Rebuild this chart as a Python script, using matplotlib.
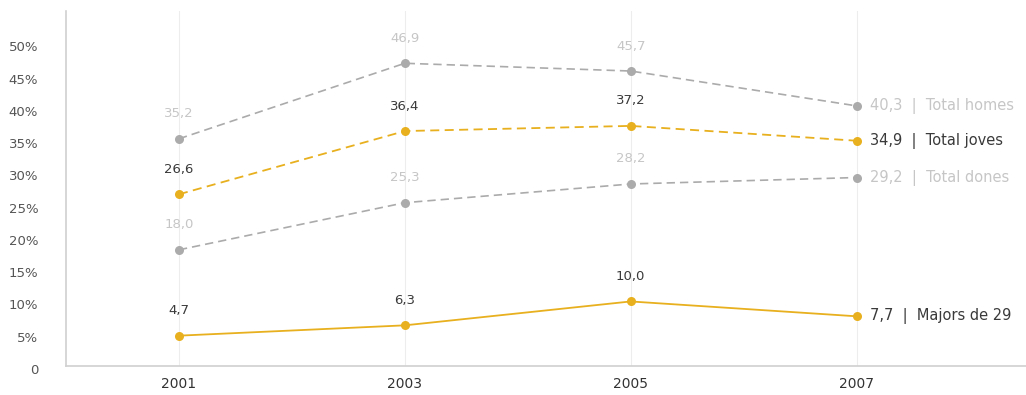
import matplotlib
matplotlib.use('Agg')
import matplotlib.pyplot as plt
from matplotlib.transforms import ScaledTranslation

plt.rcParams['font.family'] = ['DejaVu Sans']

# dades
anys = [2001, 2003, 2005, 2007]
total_homes = [35.2, 46.9, 45.7, 40.3]
total_joves = [26.6, 36.4, 37.2, 34.9]
total_dones = [18.0, 25.3, 28.2, 29.2]
majors_29 = [4.7, 6.3, 10.0, 7.7]
noms = ['Total homes', 'Total joves', 'Total dones', 'Majors de 29']
yticks = [0, 5, 10, 15, 20, 25, 30, 35, 40, 45, 50]
ytick_labels = ['0', '5%', '10%', '15%', '20%', '25%', '30%', '35%', '40%', '45%', '50%']

groc = '#E8B01E'
gris = '#ABABAB'
gris_text = '#C6C6C6'
fosc = '#3A3A3A'

fig = plt.figure(figsize=(10.26, 3.95), dpi=100)
ax = fig.add_axes([66 / 1026, 29 / 395, 960 / 1026, 355 / 395])

series = [
    (total_homes, gris, (0, (5, 3)), 1.2, gris_text),
    (total_joves, groc, (0, (5, 3)), 1.3, fosc),
    (total_dones, gris, (0, (5, 3)), 1.2, gris_text),
    (majors_29, groc, '-', 1.3, fosc),
]

for (vals, color, ls, lw, tcolor), nom in zip(series, noms):
    ax.plot(anys, vals, color=color, linestyle=ls, linewidth=lw,
            marker='o', markersize=6.5, markeredgewidth=0, zorder=3)
    for x, v in zip(anys[:-1], vals[:-1]):
        ax.annotate(f'{v:.1f}'.replace('.', ','), (x, v), xytext=(0, 18),
                    textcoords='offset points', ha='center', va='center',
                    fontsize=9.5, color=tcolor)
    v = vals[-1]
    ax.annotate(f'{v:.1f}'.replace('.', ',') + '  |  ' + nom, (anys[-1], v),
                xytext=(10, 0), textcoords='offset points', ha='left',
                va='center', fontsize=10.5, color=tcolor, annotation_clip=False)

for x in anys:
    ax.axvline(x, color='#EDEDED', linewidth=0.8, zorder=0)

ax.set_xlim(2000.0, 2008.5)
ax.set_ylim(0, 55)
ax.set_xticks(anys)
ax.set_xticklabels([str(a) for a in anys])
ax.set_yticks(yticks)
ax.set_yticklabels(ytick_labels)
ax.tick_params(axis='y', length=0, pad=20, labelsize=9.5, labelcolor='#555555')
ax.tick_params(axis='x', length=0, pad=8, labelsize=10, labelcolor='#333333')
for lab in ax.get_yticklabels():
    lab.set_transform(lab.get_transform() + ScaledTranslation(0, -3 / 100, fig.dpi_scale_trans))

for s in ['top', 'right']:
    ax.spines[s].set_visible(False)
for s in ['left', 'bottom']:
    ax.spines[s].set_color('#D0D0D0')
    ax.spines[s].set_linewidth(1.2)

fig.savefig('out.png', dpi=100)
